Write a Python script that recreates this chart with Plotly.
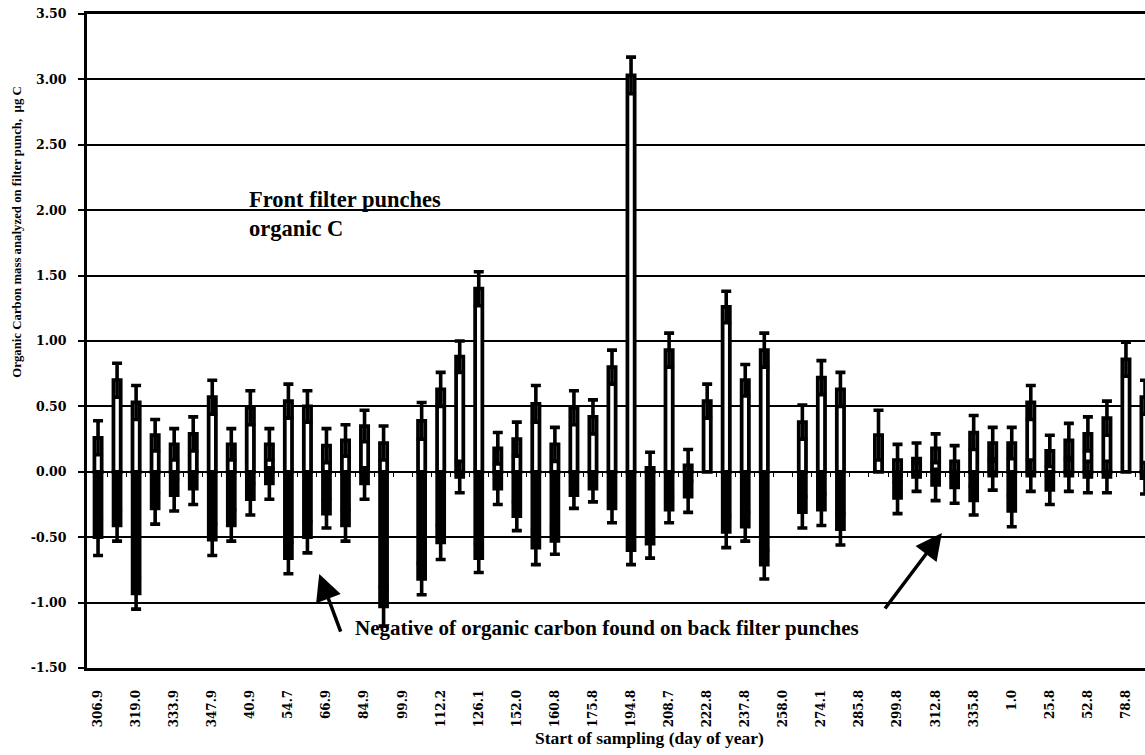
import plotly.graph_objects as go

# Sampling start days (labelled on every second sample)
day_labels = ["306.9", "319.0", "333.9", "347.9", "40.9", "54.7", "66.9", "84.9",
              "99.9", "112.2", "126.1", "152.0", "160.8", "175.8", "194.8", "208.7",
              "222.8", "237.8", "258.0", "274.1", "285.8", "299.8", "312.8", "335.8",
              "1.0", "25.8", "52.8", "78.8"]

# Organic carbon on front filter punches (ug C) and uncertainty
front_oc = [0.26, 0.70, 0.53, 0.28, 0.21, 0.29, 0.57, 0.21, 0.49, 0.21,
            0.54, 0.50, 0.20, 0.24, 0.35, 0.22, None, 0.39, 0.63, 0.88,
            1.40, 0.18, 0.25, 0.52, 0.21, 0.49, 0.42, 0.80, 3.03, 0.03,
            0.93, 0.05, 0.54, 1.26, 0.70, 0.93, None, 0.38, 0.72, 0.63,
            None, 0.28, 0.09, 0.10, 0.18, 0.08, 0.30, 0.22, 0.22, 0.53,
            0.16, 0.24, 0.29, 0.41, 0.86, 0.57]
front_err = [0.13, 0.13, 0.13, 0.12, 0.12, 0.13, 0.13, 0.12, 0.13, 0.12,
             0.13, 0.12, 0.13, 0.12, 0.12, 0.13, None, 0.14, 0.13, 0.12,
             0.13, 0.12, 0.13, 0.14, 0.13, 0.13, 0.13, 0.13, 0.14, 0.12,
             0.13, 0.12, 0.13, 0.12, 0.12, 0.13, None, 0.13, 0.13, 0.13,
             None, 0.19, 0.12, 0.12, 0.11, 0.12, 0.13, 0.12, 0.12, 0.13,
             0.12, 0.13, 0.13, 0.13, 0.13, 0.13]

# Negative of organic carbon on back filter punches (ug C) and uncertainty
back_oc = [-0.50, -0.41, -0.93, -0.28, -0.18, -0.13, -0.52, -0.41, -0.21, -0.09,
           -0.66, -0.50, -0.32, -0.41, -0.09, -1.03, None, -0.82, -0.54, -0.04,
           -0.66, -0.13, -0.34, -0.58, -0.53, -0.18, -0.13, -0.28, -0.60, -0.55,
           -0.29, -0.19, None, -0.46, -0.42, -0.71, None, -0.31, -0.29, -0.44,
           None, None, -0.20, -0.04, -0.10, -0.12, -0.22, -0.03, -0.30, -0.03,
           -0.14, -0.03, -0.04, -0.04, None, -0.05]
back_err = [0.14, 0.12, 0.12, 0.12, 0.12, 0.12, 0.12, 0.12, 0.12, 0.12,
            0.12, 0.12, 0.11, 0.12, 0.12, 0.15, None, 0.12, 0.13, 0.12,
            0.11, 0.12, 0.11, 0.13, 0.10, 0.10, 0.10, 0.11, 0.11, 0.11,
            0.10, 0.12, None, 0.12, 0.11, 0.11, None, 0.12, 0.12, 0.12,
            None, None, 0.12, 0.11, 0.12, 0.12, 0.11, 0.11, 0.12, 0.12,
            0.11, 0.12, 0.12, 0.12, None, 0.12]

y_ticks = [3.5, 3.0, 2.5, 2.0, 1.5, 1.0, 0.5, 0.0, -0.5, -1.0, -1.5]

n = len(front_oc)
idx = list(range(n))
y_lo, y_hi = y_ticks[-1], y_ticks[0]

TICK_FAMILY = "DejaVu Serif"
TEXT_FONT = "Liberation Serif"
BAR_W = 0.38
x_range = [-0.58, 55.0]

fig = go.Figure()

# Front punches: white bars with heavy black outline
fig.add_trace(go.Bar(
    x=idx, y=front_oc, width=BAR_W,
    marker=dict(color="white", line=dict(color="black", width=3.75)),
    error_y=dict(type="data", array=front_err, visible=True,
                 color="black", thickness=3.6, width=5),
    showlegend=False, hoverinfo="skip",
))

# Back punches (negated): solid black bars, on an overlaid axis that draws
# the tick marks along the zero line
fig.add_trace(go.Bar(
    x=idx, y=back_oc, width=BAR_W, xaxis="x2", yaxis="y",
    marker=dict(color="black", line=dict(color="black", width=3.5)),
    error_y=dict(type="data", array=back_err, visible=True,
                 color="black", thickness=3.6, width=5),
    showlegend=False, hoverinfo="skip",
))

zero_pos = (0 - y_lo) / (y_hi - y_lo)

fig.update_layout(
    width=1145, height=755,
    margin=dict(l=87, r=0, t=14, b=87),
    paper_bgcolor="white", plot_bgcolor="white",
    barmode="overlay",
    xaxis=dict(
        range=x_range, showgrid=False, zeroline=False,
        tickmode="array", tickvals=idx[::2], ticktext=day_labels,
        tickangle=-90, tickfont=dict(family=TICK_FAMILY, size=12,
                                     color="black", weight="bold"),
        ticks="", ticklabelstandoff=14,
        showline=True, linecolor="black", linewidth=3, mirror=True,
    ),
    xaxis2=dict(
        range=x_range, overlaying="x", anchor="free", position=zero_pos,
        showgrid=False, zeroline=False, showline=False,
        tickmode="array", tickvals=[i + 0.5 for i in idx],
        ticks="outside", ticklen=4, tickwidth=1, tickcolor="black",
        showticklabels=False,
    ),
    yaxis=dict(
        range=[y_lo, y_hi],
        tickmode="array", tickvals=y_ticks,
        ticktext=["%.2f" % v for v in y_ticks],
        tickfont=dict(family=TICK_FAMILY, size=12.5, color="black", weight="bold"),
        ticks="outside", ticklen=6, tickwidth=1.5, tickcolor="black",
        ticklabelstandoff=9,
        showgrid=True, gridcolor="black", gridwidth=1.5,
        zeroline=True, zerolinecolor="black", zerolinewidth=2,
        showline=True, linecolor="black", linewidth=3,
    ),
)

# Axis titles
fig.add_annotation(
    text="Start of sampling (day of year)", xref="paper", yref="paper",
    x=0.5317, y=-0.107, showarrow=False, xanchor="center", yanchor="middle",
    font=dict(family=TEXT_FONT, size=17.5, color="black", weight="bold"),
)
fig.add_annotation(
    text="Organic Carbon mass analyzed on filter punch,  \u00b5g C",
    xref="paper", yref="paper", x=-0.0662, y=0.667, textangle=-90,
    showarrow=False, xanchor="center", yanchor="middle",
    font=dict(family=TEXT_FONT, size=12.8, color="black", weight="bold"),
)

# Explanatory labels
fig.add_annotation(
    text="Front filter punches<br>organic C", xref="paper", yref="paper",
    x=0.1514, y=0.738, showarrow=False, xanchor="left", yanchor="top",
    align="left",
    font=dict(family=TEXT_FONT, size=22.5, color="black", weight="bold"),
)
fig.add_annotation(
    text="Negative of organic carbon found on back filter punches",
    xref="paper", yref="paper", x=0.2517, y=0.061, showarrow=False,
    xanchor="left", yanchor="middle",
    font=dict(family=TEXT_FONT, size=21, color="black", weight="bold"),
)

# Arrows pointing at the back-filter bars
for hx, hy, ax, ay in [(0.2195, 0.1437, 22, 59), (0.808, 0.2064, -58, 77)]:
    fig.add_annotation(
        x=hx, y=hy, xref="paper", yref="paper", ax=ax, ay=ay,
        text="", showarrow=True, arrowhead=2, arrowsize=1.5,
        arrowwidth=3.5, arrowcolor="black",
    )

fig.write_html("out.html")
